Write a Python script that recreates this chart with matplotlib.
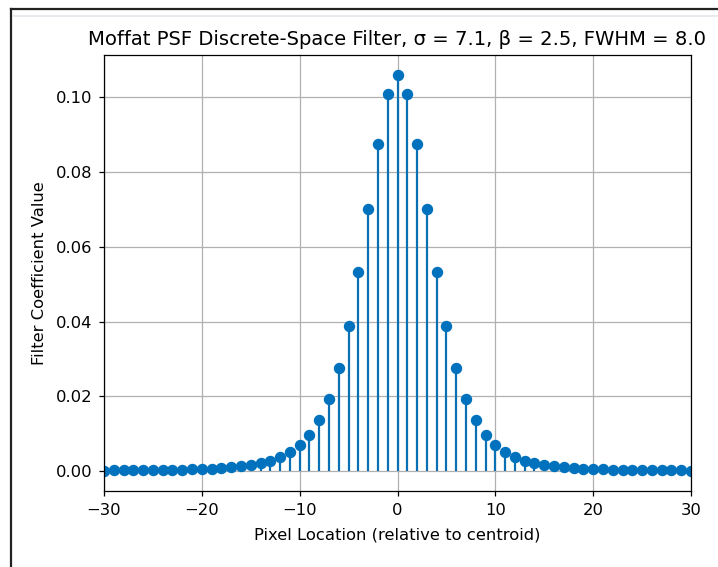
import matplotlib
matplotlib.use("Agg")
import matplotlib.pyplot as plt
from matplotlib.lines import Line2D

pixel_location = list(range(-30, 31))
coefficients = [
    0.0001, 0.0002, 0.0002, 0.0002, 0.0002, 0.0003, 0.0003, 0.0004, 0.0004, 0.0005,
    0.0006, 0.0007, 0.0008, 0.0010, 0.0013, 0.0016, 0.0021, 0.0027, 0.0037, 0.0051,
    0.0070, 0.0097, 0.0137, 0.0193, 0.0275, 0.0387, 0.0532, 0.0700, 0.0875, 0.1010,
    0.1060,
    0.1010, 0.0875, 0.0700, 0.0532, 0.0387, 0.0275, 0.0193, 0.0137, 0.0097, 0.0070,
    0.0051, 0.0037, 0.0027, 0.0021, 0.0016, 0.0013, 0.0010, 0.0008, 0.0007, 0.0006,
    0.0005, 0.0004, 0.0004, 0.0003, 0.0003, 0.0002, 0.0002, 0.0002, 0.0002, 0.0001,
]
title = "Moffat PSF Discrete-Space Filter, σ = 7.1, β = 2.5, FWHM = 8.0"
xlabel = "Pixel Location (relative to centroid)"
ylabel = "Filter Coefficient Value"

W, H = 718, 567
fig = plt.figure(figsize=(W / 100, H / 100), dpi=100)
ax = fig.add_axes([104 / W, 1 - 491 / H, (691 - 104) / W, (491 - 55) / H])

color = "#0072BD"
markerline, stemlines, baseline = ax.stem(pixel_location, coefficients, basefmt=" ")
markerline.set_color(color)
markerline.set_markersize(7.2)
stemlines.set_color("#0a6fb3")
stemlines.set_linewidth(1.6)

ax.set_xlim(-30, 30)
ax.set_ylim(-0.0053, 0.1113)
ax.grid(True, color="#b0b0b0", linewidth=0.9)
ax.set_axisbelow(True)
fs = 11.8
ax.tick_params(labelsize=fs, length=3.9, width=0.9, pad=4.5)
for s in ax.spines.values():
    s.set_linewidth(0.9)
ax.set_title(title, fontsize=14.1, pad=7)
ax.set_xlabel(xlabel, fontsize=fs, labelpad=7)
ax.set_ylabel(ylabel, fontsize=fs, labelpad=6)

# screenshot frame
fig.add_artist(Line2D([11 / W, 1], [1 - 9 / H, 1 - 9 / H], transform=fig.transFigure, color="#222222", linewidth=1.6))
fig.add_artist(Line2D([11 / W, 11 / W], [0, 1 - 9 / H], transform=fig.transFigure, color="#222222", linewidth=1.6))
fig.add_artist(Line2D([13 / W, 1], [1 - 16 / H, 1 - 16 / H], transform=fig.transFigure, color="#e3e8ec", linewidth=1.2))

fig.savefig("out.png", dpi=100)
